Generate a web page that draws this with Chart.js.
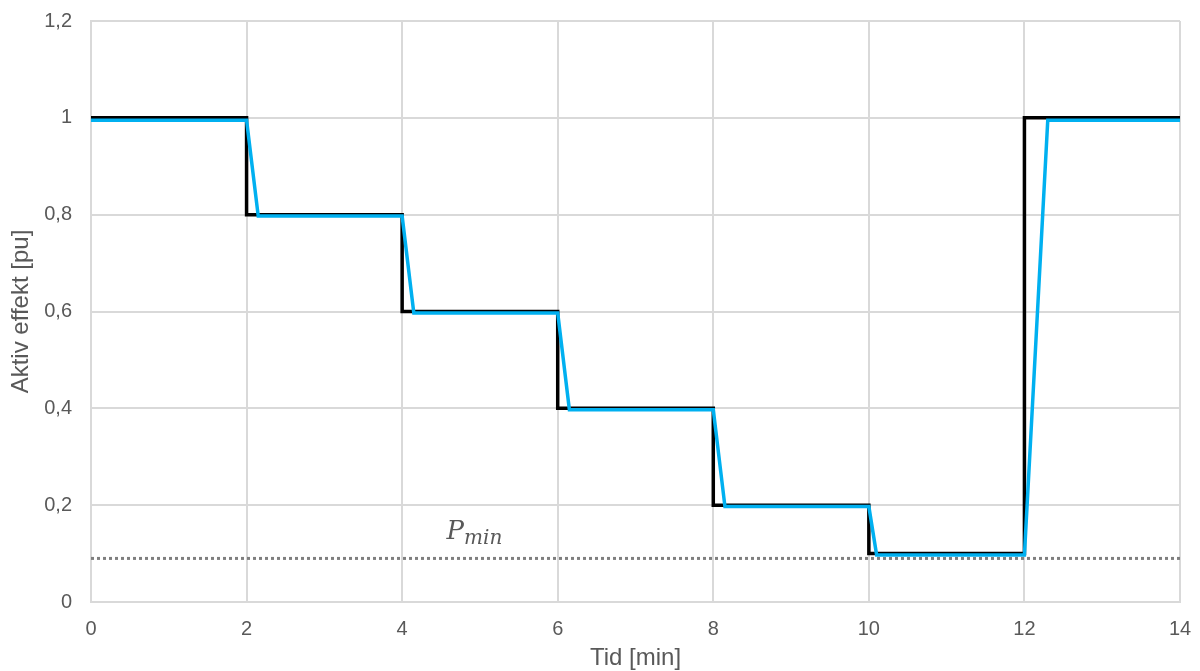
<!DOCTYPE html>
<html>
<head>
<meta charset="utf-8">
<script src="https://cdn.jsdelivr.net/npm/chart.js@4/dist/chart.umd.min.js"></script>
<style>
  html, body { margin: 0; padding: 0; background: #fff; }
  #wrap { width: 1200px; height: 671px; }
</style>
</head>
<body>
<div id="wrap"><canvas id="myChart"></canvas></div>
<script>
// setpoint (black) and measured (blue) active power, x in minutes
const refX = [0, 2, 2, 4, 4, 6, 6, 8, 8, 10, 10, 12, 12, 14];
const refY = [1, 1, 0.8, 0.8, 0.6, 0.6, 0.4, 0.4, 0.2, 0.2, 0.1, 0.1, 1, 1];
const measX = [0, 2, 2.15, 4, 4.15, 6, 6.15, 8, 8.15, 10, 10.1, 12, 12.3, 14];
const measY = [0.995, 0.995, 0.797, 0.797, 0.597, 0.597, 0.397, 0.397, 0.197, 0.197, 0.097, 0.097, 0.995, 0.995];
const pMinX = [0, 14];
const pMinY = [0.09, 0.09];
const pMinLabel = { x: 4.93, y: 0.13 };

const pts = (xs, ys) => xs.map((x, i) => ({ x: x, y: ys[i] }));

const labelPlugin = {
  id: 'pminLabel',
  afterDatasetsDraw(chart) {
    const ctx = chart.ctx;
    const px = chart.scales.x.getPixelForValue(pMinLabel.x);
    const py = chart.scales.y.getPixelForValue(pMinLabel.y);
    const big = 'italic 26px "DejaVu Serif", "Liberation Serif", serif';
    const small = 'italic 20px "DejaVu Serif", "Liberation Serif", serif';
    ctx.save();
    ctx.fillStyle = '#595959';
    ctx.textBaseline = 'alphabetic';
    ctx.font = big;
    const pw = ctx.measureText('P').width;
    ctx.font = small;
    const sw = ctx.measureText('min').width;
    const x0 = px - (pw + sw) / 2;
    ctx.font = big;
    ctx.fillText('P', x0, py);
    ctx.font = small;
    ctx.fillText('min', x0 + pw, py + 5);
    ctx.restore();
  }
};

const font = { family: 'Liberation Sans, Arial', size: 20 };
const titleFont = { family: 'Liberation Sans, Arial', size: 24 };

const config = {
  type: 'line',
  data: {
    datasets: [
      {
        label: 'Pmin',
        data: pts(pMinX, pMinY),
        borderColor: '#7f7f7f',
        borderWidth: 3,
        borderDash: [3, 3],
        pointRadius: 0,
        fill: false,
        order: 3
      },
      {
        label: 'Referanse',
        data: pts(refX, refY),
        borderColor: '#000000',
        borderWidth: 3.5,
        pointRadius: 0,
        fill: false,
        order: 2
      },
      {
        label: 'Aktiv effekt',
        data: pts(measX, measY),
        borderColor: '#00b0f0',
        borderWidth: 3.5,
        pointRadius: 0,
        fill: false,
        order: 1
      }
    ]
  },
  options: {
    responsive: true,
    maintainAspectRatio: false,
    animation: false,
    layout: { padding: { top: 21, right: 20, bottom: 0, left: 7 } },
    plugins: { legend: { display: false }, tooltip: { enabled: false } },
    scales: {
      x: {
        type: 'linear',
        min: 0, max: 14,
        afterFit: s => { s.height = 69; s.paddingLeft = 0; s.paddingRight = 0; },
        ticks: { stepSize: 2, color: '#595959', font: font, padding: 15 },
        grid: { color: '#d9d9d9', lineWidth: 2, drawTicks: false },
        border: { color: '#d9d9d9', width: 2 },
        title: { display: true, text: 'Tid [min]', color: '#595959', font: titleFont, padding: { top: 0, bottom: -2 } }
      },
      y: {
        min: 0, max: 1.2,
        afterFit: s => { s.width = 84; s.paddingTop = 0; s.paddingBottom = 0; },
        ticks: {
          stepSize: 0.2, color: '#595959', font: font, padding: 19,
          callback: v => String(Math.round(v * 10) / 10).replace('.', ',')
        },
        grid: { color: '#d9d9d9', lineWidth: 2, drawTicks: false },
        border: { color: '#d9d9d9', width: 2 },
        title: { display: true, text: 'Aktiv effekt [pu]', color: '#595959', font: titleFont, padding: { top: 0, bottom: 10 } }
      }
    }
  },
  plugins: [labelPlugin]
};

new Chart(document.getElementById('myChart'), config);
</script>
</body>
</html>
